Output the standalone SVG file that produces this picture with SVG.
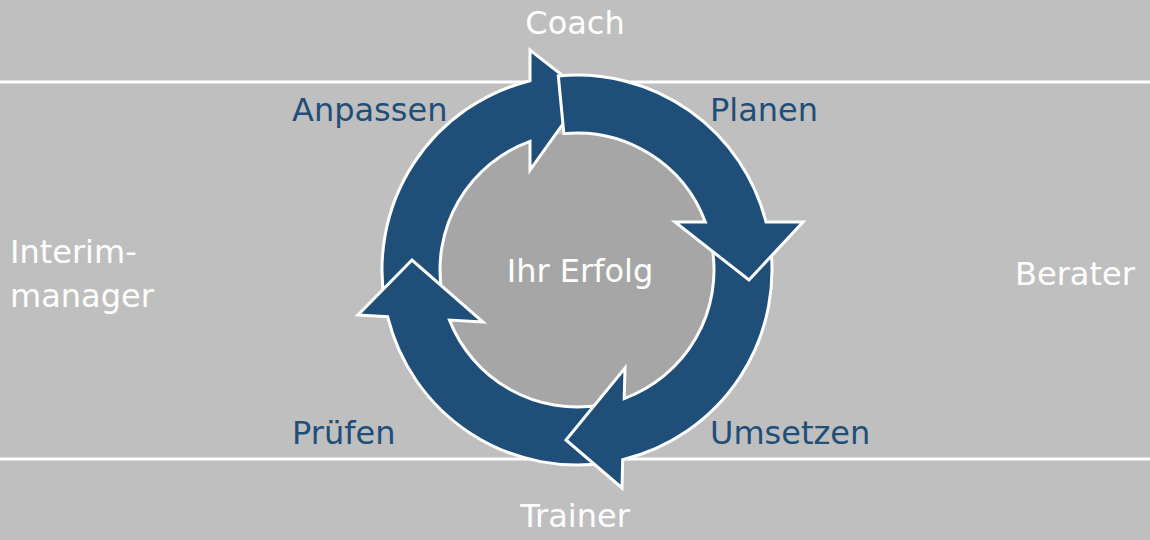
<svg xmlns="http://www.w3.org/2000/svg" width="1150" height="540" viewBox="0 0 1150 540">
  <style>
    .lbl { font-family: "DejaVu Sans", "Liberation Sans", sans-serif; font-size: 32px; }
    .w { fill: #ffffff; }
    .b { fill: #1f4e79; }
    .arrow { fill: #1f4e79; stroke: #ffffff; stroke-width: 3; stroke-linejoin: miter; }
    .sep { stroke: #ffffff; stroke-width: 3; }
  </style>
  <rect x="0" y="0" width="1150" height="540" fill="#bfbfbf"/>
  <g id="separators">
    <line class="sep" x1="0" y1="82" x2="1150" y2="82"/>
    <line class="sep" x1="0" y1="459" x2="1150" y2="459"/>
  </g>
  <g id="center">
    <circle cx="577" cy="270" r="137" fill="#a6a6a6"/>
    <text class="lbl w" x="580" y="282" text-anchor="middle">Ihr Erfolg</text>
  </g>
  <g id="connectors">
    <path id="arrow-anpassen" class="arrow" d="M384.96,303.86 A195,195 0 0 1 530,80.7 L530,50 L585,93 L530,170 L530,141.3 A137,137 0 0 0 442.08,293.79 Z"/>
    <path id="arrow-pruefen" class="arrow" d="M610.86,462.04 A195,195 0 0 1 387.6,316.7 L358,315 L412,260 L483,322 L449.5,320.1 A137,137 0 0 0 600.79,404.92 Z"/>
    <path id="arrow-umsetzen" class="arrow" d="M769.04,236.14 A195,195 0 0 1 622.7,459.6 L622,488 L566,440 L625,368 L624.2,398.6 A137,137 0 0 0 711.92,246.21 Z"/>
    <path id="arrow-planen" class="arrow" d="M558.31,75.9 A195,195 0 0 1 766,222 L803,222 L749,280 L675,222 L705.3,222 A137,137 0 0 0 563.87,133.63 Z"/>
  </g>
  <g id="coach"><text class="lbl w" x="575" y="34" text-anchor="middle">Coach</text></g>
  <g id="trainer"><text class="lbl w" x="575" y="527" text-anchor="middle">Trainer</text></g>
  <g id="berater"><text class="lbl w" x="1015" y="285">Berater</text></g>
  <g id="interimmanager">
    <text class="lbl w" x="10" y="263">Interim-</text>
    <text class="lbl w" x="10" y="307">manager</text>
  </g>
  <g id="anpassen"><text class="lbl b" x="292" y="121">Anpassen</text></g>
  <g id="planen"><text class="lbl b" x="710" y="121">Planen</text></g>
  <g id="pruefen"><text class="lbl b" x="292" y="444">Prüfen</text></g>
  <g id="umsetzen"><text class="lbl b" x="710" y="444">Umsetzen</text></g>
</svg>
